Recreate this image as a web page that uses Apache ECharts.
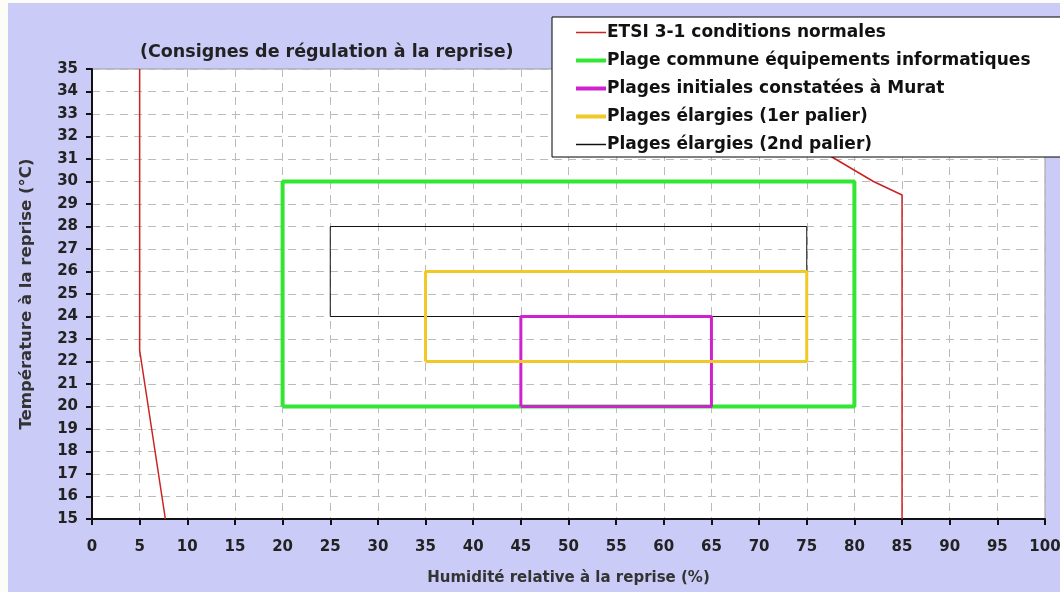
<!DOCTYPE html>
<html>
<head>
<meta charset="utf-8">
<script src="https://cdn.jsdelivr.net/npm/echarts@6/dist/echarts.min.js"></script>
<style>
    html, body { margin: 0; padding: 0; background: #fdfdf8; }
    #chart { position: absolute; left: 8px; top: 3px; width: 1052px; height: 589px; background: #cbcbf7; }
</style>
</head>
<body>
<div id="chart"></div>
<script>
    // ETSI 3-1 limits (humidity %, temperature °C)
    var etsiLow = [[7.7, 15], [5, 22.5], [5, 35]];
    var etsiHigh = [[85, 15], [85, 29.4], [82, 30], [78, 31], [74, 32], [70, 33], [66.5, 34], [63, 35]];
    // rectangles: [hMin, hMax, tMin, tMax]
    var plageCommune = [20, 80, 20, 30];
    var plagesInitiales = [45, 65, 20, 24];
    var palier1 = [35, 75, 22, 26];
    var palier2 = [25, 75, 24, 28];
    var legendNames = ['ETSI 3-1 conditions normales', 'Plage commune équipements informatiques',
        'Plages initiales constatées à Murat', 'Plages élargies (1er palier)', 'Plages élargies (2nd palier)'];
    var legendWidths = [1.5, 4, 4, 4, 1.5];

    function rect(r) {
        return [[r[0], r[2]], [r[1], r[2]], [r[1], r[3]], [r[0], r[3]], [r[0], r[2]]];
    }

    var font = "DejaVu Sans";
    var chart = echarts.init(document.getElementById("chart"));

    function serie(name, data, color, width) {
        return {
            name: name,
            type: 'line',
            data: data,
            symbol: 'none',
            animation: false,
            lineStyle: {color: color, width: width},
            itemStyle: {color: color}
        };
    }

    var legendData = [];
    legendNames.forEach(function (n, i) {
        legendData.push({name: n, lineStyle: {width: legendWidths[i]}});
    });

    var option = {
        animation: false,
        title: {
            text: '(Consignes de régulation à la reprise)',
            left: 127,
            top: 35,
            textStyle: {fontFamily: font, fontSize: 17.5, fontWeight: 'bold', color: '#222'}
        },
        grid: {
            left: 84, right: 15, top: 66, bottom: 73,
            outerBoundsMode: 'none',
            show: true,
            backgroundColor: '#fff',
            borderColor: '#999',
            borderWidth: 1
        },
        legend: {
            orient: 'vertical',
            left: 544,
            top: 14,
            padding: [7, 60, 4, 22],
            itemGap: 11,
            itemWidth: 30,
            itemHeight: 16,
            backgroundColor: '#fff',
            borderColor: '#000',
            borderWidth: 1,
            itemStyle: {opacity: 0},
            data: legendData,
            textStyle: {fontFamily: font, fontSize: 17, fontWeight: 'bold', color: '#111', padding: [0, 0, 0, -4]}
        },
        xAxis: {
            type: 'value',
            min: 0, max: 100, interval: 5,
            name: 'Humidité relative à la reprise (%)',
            nameLocation: 'middle',
            nameGap: 52,
            nameTextStyle: {fontFamily: font, fontSize: 15, fontWeight: 'bold', color: '#333'},
            axisLine: {show: true, onZero: false, lineStyle: {color: '#111', width: 2}},
            axisTick: {show: true, length: 6, lineStyle: {color: '#111', width: 2}},
            axisLabel: {fontFamily: font, fontSize: 15, fontWeight: 'bold', color: '#222', margin: 21},
            splitLine: {show: true, lineStyle: {color: '#bbb', type: [8, 6]}}
        },
        yAxis: {
            type: 'value',
            min: 15, max: 35, interval: 1,
            name: 'Température à la reprise (°C)',
            nameLocation: 'middle',
            nameGap: 57,
            nameTextStyle: {fontFamily: font, fontSize: 16.5, fontWeight: 'bold', color: '#333'},
            axisLine: {show: true, onZero: false, lineStyle: {color: '#111', width: 2}},
            axisTick: {show: true, length: 6, lineStyle: {color: '#111', width: 2}},
            axisLabel: {fontFamily: font, fontSize: 15, fontWeight: 'bold', color: '#222', margin: 14},
            splitLine: {show: true, lineStyle: {color: '#bbb', type: [8, 6]}}
        },
        series: [
            serie(legendNames[0], etsiLow, '#cc2222', 1.5),
            serie(legendNames[0], etsiHigh, '#cc2222', 1.5),
            serie(legendNames[1], rect(plageCommune), '#33e633', 4),
            serie(legendNames[4], rect(palier2), '#111111', 1),
            serie(legendNames[2], rect(plagesInitiales), '#d021d0', 3),
            serie(legendNames[3], rect(palier1), '#f0c828', 3)
        ]
    };
    chart.setOption(option);
</script>
</body>
</html>
